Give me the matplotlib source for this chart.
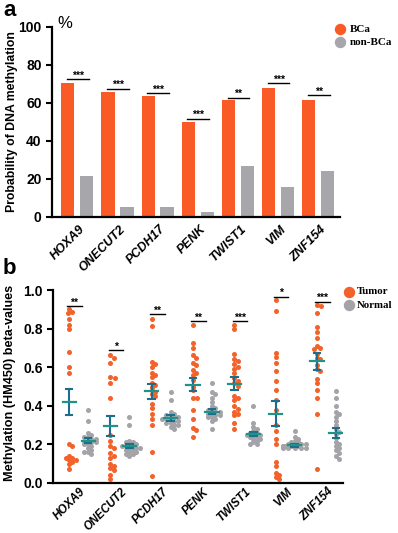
import numpy as np
import matplotlib
matplotlib.use("Agg")
import matplotlib.pyplot as plt
from matplotlib.lines import Line2D
from matplotlib.transforms import ScaledTranslation

# ---------------- data ----------------
genes = ["HOXA9", "ONECUT2", "PCDH17", "PENK", "TWIST1", "VIM", "ZNF154"]

# panel a: probability of DNA methylation (%)
bca = [70.5, 66, 63.5, 50, 61.5, 68, 61.5]
non_bca = [21.5, 5, 5, 2.5, 27, 16, 24]
sig_a = ["***", "***", "***", "***", "**", "***", "**"]
sig_a_y = [72.5, 67.5, 65, 51.8, 62.8, 70.5, 64]

# panel b: HM450 beta values
tumor_hoxa9 = [0.90, 0.88, 0.885, 0.85, 0.82, 0.80, 0.68, 0.60, 0.57, 0.20, 0.19,
               0.14, 0.13, 0.12, 0.12, 0.13, 0.11, 0.10, 0.07]
tumor_onecut2 = [0.665, 0.65, 0.62, 0.55, 0.545, 0.52, 0.44, 0.25, 0.22, 0.19, 0.18,
                 0.155, 0.14, 0.13, 0.10, 0.09, 0.08, 0.065, 0.04, 0.02]
tumor_pcdh17 = [0.85, 0.815, 0.625, 0.615, 0.60, 0.57, 0.56, 0.55, 0.52, 0.51, 0.50,
                0.48, 0.47, 0.46, 0.45, 0.41, 0.39, 0.36, 0.33, 0.30, 0.16, 0.035]
tumor_penk = [0.82, 0.725, 0.70, 0.665, 0.65, 0.62, 0.61, 0.585, 0.57, 0.56, 0.535,
              0.50, 0.48, 0.44, 0.44, 0.38, 0.33, 0.285, 0.275, 0.24]
tumor_twist1 = [0.82, 0.80, 0.67, 0.645, 0.63, 0.615, 0.60, 0.59, 0.57, 0.545, 0.53,
                0.52, 0.505, 0.45, 0.44, 0.43, 0.40, 0.385, 0.37, 0.36, 0.35, 0.31, 0.28]
tumor_vim = [0.95, 0.89, 0.675, 0.655, 0.62, 0.58, 0.53, 0.48, 0.43, 0.38, 0.30,
             0.27, 0.23, 0.20, 0.11, 0.09, 0.05, 0.04, 0.03, 0.02]
tumor_znf154 = [0.92, 0.915, 0.88, 0.81, 0.78, 0.75, 0.71, 0.70, 0.695, 0.67, 0.65,
                0.64, 0.61, 0.59, 0.58, 0.54, 0.52, 0.48, 0.44, 0.36, 0.075]

normal_hoxa9 = [0.38, 0.32, 0.26, 0.25, 0.24, 0.24, 0.23, 0.23, 0.22, 0.22, 0.21,
                0.21, 0.20, 0.20, 0.19, 0.18, 0.17, 0.16, 0.16, 0.15]
normal_onecut2 = [0.34, 0.30, 0.22, 0.21, 0.21, 0.20, 0.20, 0.19, 0.19, 0.19, 0.18,
                  0.18, 0.18, 0.17, 0.17, 0.16, 0.16, 0.15, 0.15, 0.14]
normal_pcdh17 = [0.47, 0.43, 0.37, 0.36, 0.35, 0.35, 0.34, 0.34, 0.33, 0.33, 0.33,
                 0.32, 0.32, 0.31, 0.31, 0.30, 0.30, 0.29, 0.28]
normal_penk = [0.52, 0.47, 0.46, 0.44, 0.42, 0.40, 0.39, 0.38, 0.38, 0.37, 0.37,
               0.36, 0.36, 0.35, 0.35, 0.34, 0.34, 0.33, 0.32, 0.28]
normal_twist1 = [0.40, 0.31, 0.29, 0.28, 0.27, 0.26, 0.26, 0.25, 0.25, 0.25, 0.24,
                 0.24, 0.23, 0.23, 0.22, 0.21, 0.20, 0.20]
normal_vim = [0.27, 0.24, 0.23, 0.22, 0.21, 0.21, 0.20, 0.20, 0.20, 0.20, 0.19,
              0.19, 0.19, 0.19, 0.19, 0.18, 0.18, 0.18, 0.18, 0.18]
normal_znf154 = [0.475, 0.44, 0.40, 0.37, 0.36, 0.34, 0.32, 0.30, 0.28, 0.265, 0.255,
                 0.235, 0.21, 0.20, 0.19, 0.18, 0.17, 0.155, 0.14, 0.125]

tumor_vals = [tumor_hoxa9, tumor_onecut2, tumor_pcdh17, tumor_penk, tumor_twist1,
              tumor_vim, tumor_znf154]
normal_vals = [normal_hoxa9, normal_onecut2, normal_pcdh17, normal_penk, normal_twist1,
               normal_vim, normal_znf154]

tumor_mean = [0.42, 0.295, 0.475, 0.51, 0.515, 0.36, 0.63]
tumor_sem = [0.067, 0.05, 0.04, 0.035, 0.035, 0.065, 0.045]
normal_mean = [0.22, 0.19, 0.335, 0.37, 0.255, 0.195, 0.26]
normal_sem = [0.015, 0.01, 0.015, 0.015, 0.01, 0.006, 0.025]

sig_b = ["**", "*", "**", "**", "***", "*", "***"]
sig_b_y = [0.915, 0.69, 0.874, 0.84, 0.84, 0.965, 0.94]

# ---------------- style ----------------
ORANGE = "#F95A26"
GREY = "#A6A6AB"
PT_ORANGE = "#F2622A"
PT_GREY = "#A3A3A8"
TEAL = "#1E9488"
TEAL_DARK = "#1C6E8C"

SANS = ["Liberation Sans", "DejaVu Sans"]
SERIF = ["Liberation Serif", "DejaVu Serif"]
plt.rcParams["font.family"] = SANS
plt.rcParams["font.weight"] = "bold"

W, H = 398, 533
fig = plt.figure(figsize=(W / 100, H / 100), dpi=100)


def fx(px):
    return px / W


def fy(py):
    return 1 - py / H


def style_axes(ax, shift_px, pad_pt, fs):
    for s in ["top", "right"]:
        ax.spines[s].set_visible(False)
    for s in ["left", "bottom"]:
        ax.spines[s].set_linewidth(1.6)
    ax.tick_params(axis="y", width=1.5, length=4, direction="out", labelsize=10)
    ax.tick_params(axis="x", length=0, pad=pad_pt)
    ax.set_xticks(range(len(genes)))
    ax.set_xticklabels(genes, rotation=45, ha="right", va="center",
                       rotation_mode="anchor", fontsize=fs, fontstyle="italic",
                       fontweight="bold")
    shift = ScaledTranslation(shift_px / 100, 0, fig.dpi_scale_trans)
    for lab in ax.get_xticklabels():
        lab.set_transform(lab.get_transform() + shift)
    for lab in ax.get_yticklabels():
        lab.set_fontweight("bold")


# ---------------- panel a ----------------
ax1 = fig.add_axes([fx(52), fy(217), fx(340) - fx(52), fy(27) - fy(217)])
x = np.arange(len(genes))
bw = 0.33
off = 0.235
ax1.bar(x - off, bca, width=bw, color=ORANGE, zorder=2)
ax1.bar(x + off, non_bca, width=bw, color=GREY, zorder=2)
ax1.set_xlim(-0.63, 6.54)
ax1.set_ylim(0, 100)
ax1.set_yticks([0, 20, 40, 60, 80, 100])
style_axes(ax1, 6, 7.5, 9)
ax1.set_ylabel("Probability of DNA methylation", fontsize=8.8, fontweight="bold")
ax1.yaxis.set_label_coords((18 - 52) / 288, 0.5)
for i in range(len(genes)):
    ax1.plot([i - 0.26, i + 0.28], [sig_a_y[i], sig_a_y[i]], color="black", lw=1.0,
             zorder=3)
    ax1.text(i + 0.01, sig_a_y[i] - 0.8, sig_a[i], ha="center", va="bottom",
             fontsize=7.5, fontweight="bold")

fig.text(fx(57), fy(24), "%", fontsize=12, fontweight="normal", ha="left",
         va="center")
fig.text(fx(3), fy(11), "a", fontsize=16, fontweight="bold", ha="left", va="center")

# legend a
for py, col, lab in [(29.3, ORANGE, "BCa"), (42.3, GREY, "non-BCa")]:
    fig.add_artist(Line2D([fx(340)], [fy(py)], marker="o", markersize=7.2,
                          color=col, lw=0, transform=fig.transFigure))
    fig.text(fx(350), fy(py), lab, family=SERIF, fontsize=8, fontweight="bold",
             ha="left", va="center")

# ---------------- panel b ----------------
ax2 = fig.add_axes([fx(53), fy(483), fx(343) - fx(53), fy(290) - fy(483)])
ax2.set_xlim(-0.62, 6.4)
ax2.set_ylim(0, 1.0)
ax2.set_yticks([0, 0.2, 0.4, 0.6, 0.8, 1.0])
ax2.set_yticklabels(["0.0", "0.2", "0.4", "0.6", "0.8", "1.0"])
style_axes(ax2, 5, 5.0, 8.3)
ax2.set_ylabel("Methylation (HM450) beta-values", fontsize=9.1, fontweight="bold")
ax2.yaxis.set_label_coords((16 - 53) / 290, 0.52)

# pixel scales for beeswarm layout
x_px_per_unit = (343 - 53) / (6.4 + 0.62)
y_px_per_unit = (483 - 290) / 1.0
dot_d = 3.8  # px spacing used for the swarm layout


def swarm_offsets(vals):
    order = np.argsort(vals)[::-1]
    placed = []
    offs = np.zeros(len(vals))
    cands = [0]
    for k in range(1, 12):
        cands += [k * 1.1, -k * 1.1]
    for idx in order:
        yv = vals[idx] * y_px_per_unit
        for c in cands:
            ok = True
            for (px, py) in placed:
                if (px - c) ** 2 + (py - yv) ** 2 < dot_d ** 2:
                    ok = False
                    break
            if ok:
                break
        placed.append((c, yv))
        offs[idx] = c / x_px_per_unit
    return offs


poff = 0.23
for i in range(len(genes)):
    tv = np.array(tumor_vals[i])
    nv = np.array(normal_vals[i])
    ax2.scatter(i - poff + swarm_offsets(tv), tv, s=13, color=PT_ORANGE, lw=0,
                zorder=2, clip_on=False)
    ax2.scatter(i + poff + swarm_offsets(nv), nv, s=13, color=PT_GREY, lw=0,
                zorder=2, clip_on=False)
    for cx, m, se in [(i - poff, tumor_mean[i], tumor_sem[i]),
                      (i + poff, normal_mean[i], normal_sem[i])]:
        ax2.plot([cx, cx], [m - se, m + se], color=TEAL_DARK, lw=1.5, zorder=3)
        ax2.plot([cx - 0.08, cx + 0.08], [m - se, m - se], color=TEAL_DARK, lw=1.5,
                 zorder=3)
        ax2.plot([cx - 0.08, cx + 0.08], [m + se, m + se], color=TEAL_DARK, lw=1.5,
                 zorder=3)
        ax2.plot([cx - 0.16, cx + 0.16], [m, m], color=TEAL, lw=1.6, zorder=4)
    ax2.plot([i - 0.27, i + 0.08], [sig_b_y[i], sig_b_y[i]], color="black", lw=1.0,
             zorder=3, clip_on=False)
    ax2.text(i - 0.1, sig_b_y[i] - 0.008, sig_b[i], ha="center", va="bottom",
             fontsize=7.5, fontweight="bold")

fig.text(fx(3), fy(268), "b", fontsize=16, fontweight="bold", ha="left",
         va="center")

for py, col, lab in [(291.7, PT_ORANGE, "Tumor"), (305, PT_GREY, "Normal")]:
    fig.add_artist(Line2D([fx(348.5)], [fy(py)], marker="o", markersize=7.2,
                          color=col, lw=0, transform=fig.transFigure))
    fig.text(fx(357), fy(py), lab, family=SERIF, fontsize=7.8, fontweight="bold",
             ha="left", va="center")

fig.savefig("out.png", dpi=100)
